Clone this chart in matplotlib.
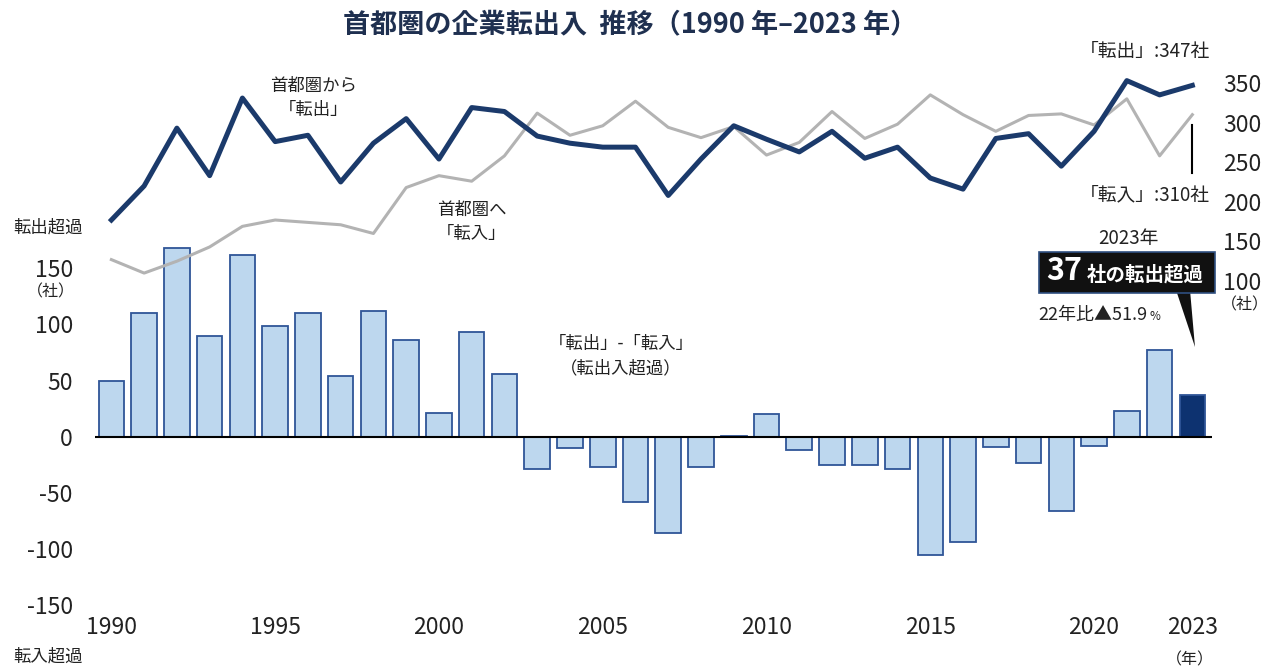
import numpy as np
import matplotlib.pyplot as plt
from matplotlib.patches import Polygon, FancyBboxPatch

plt.rcParams['font.family'] = ['Noto Sans CJK JP', 'DejaVu Sans']

years = list(range(1990, 2024))
# 首都圏から「転出」
out_cnt = [177, 220, 293, 233, 331, 276, 284, 225, 274, 305, 254, 319, 314, 283, 274, 269, 269,
           208, 254, 296, 279, 263, 289, 255, 269, 230, 216, 280, 286, 245, 289, 353, 335, 347]
# 首都圏へ「転入」
in_cnt = [127, 110, 125, 143, 169, 177, 174, 171, 160, 218, 233, 226, 258, 312, 284, 296, 327,
          294, 281, 295, 259, 275, 314, 280, 298, 335, 310, 289, 309, 311, 297, 330, 258, 310]
# 「転出」-「転入」
net = [50, 110, 168, 90, 162, 99, 110, 54, 112, 86, 21, 93, 56, -29, -10, -27, -58,
       -86, -27, 1, 20, -12, -25, -25, -29, -105, -94, -9, -23, -66, -8, 23, 77, 37]
xtick_years = [1990, 1995, 2000, 2005, 2010, 2015, 2020, 2023]
left_ticks = [-150, -100, -50, 0, 50, 100, 150]
right_ticks = [100, 150, 200, 250, 300, 350]

W, H = 1268, 671
navy = '#1b3a6b'
bar_fill = '#bdd7ee'
bar_edge = '#2f5597'
gray = '#b3b3b3'
txt = '#222222'

fig = plt.figure(figsize=(W / 100, H / 100), dpi=100)
ax = fig.add_axes([95 / W, (H - 605) / H, (1212 - 95) / W, (605 - 50) / H])
ax2 = ax.twinx()

colors = [bar_fill] * (len(years) - 1) + ['#0d3270']
ax.bar(years, net, width=0.78, color=colors, edgecolor=bar_edge, linewidth=1.3, zorder=2)
ax.axhline(0, color='black', linewidth=1.5, zorder=3)
ax.set_xlim(1989.5, 2023.6)
ax.set_ylim(-150, (436 - 50) / 1.12)
ax.set_yticks(left_ticks)
ax.set_yticklabels([str(v) for v in left_ticks], fontsize=16.5, color=txt)
ax.set_xticks(xtick_years)
ax.set_xticklabels([str(v) for v in xtick_years], fontsize=16.5, color=txt)
ax.tick_params(axis='y', length=0, pad=16)
ax.tick_params(axis='x', length=0, pad=8)

ax2.plot(years, in_cnt, color=gray, linewidth=2.2, zorder=4)
ax2.plot(years, out_cnt, color=navy, linewidth=3.6, zorder=5)
ax2.set_ylim(350 - (605 - 83) / 0.792, 350 + (83 - 50) / 0.792)
ax2.set_yticks(right_ticks)
ax2.set_yticklabels([str(v) for v in right_ticks], fontsize=16.5, color=txt)
ax2.tick_params(axis='y', length=0, pad=8)

for a in (ax, ax2):
    for s in a.spines.values():
        s.set_visible(False)

# text in pixel coordinates
def ftext(x, y, s, **kw):
    fig.text(x / W, 1 - y / H, s, **kw)

ftext(630, 24, '首都圏の企業転出入  推移（1990 年–2023 年）', fontsize=19.5, fontweight='bold',
      color='#1f3050', ha='center', va='center')
ftext(313, 86, '首都圏から', fontsize=12.5, color=txt, ha='center', va='center')
ftext(313, 110, '「転出」', fontsize=12.5, color=txt, ha='center', va='center')
ftext(472, 210, '首都圏へ', fontsize=12.5, color=txt, ha='center', va='center')
ftext(472, 234, '「転入」', fontsize=12.5, color=txt, ha='center', va='center')
ftext(621, 344, '「転出」-「転入」', fontsize=12.5, color=txt, ha='center', va='center')
ftext(621, 368, '（転出入超過）', fontsize=12.5, color=txt, ha='center', va='center')
ftext(1145, 52, '「転出」:347社', fontsize=13.5, color=txt, ha='center', va='center')
ftext(1145, 195, '「転入」:310社', fontsize=13.5, color=txt, ha='center', va='center')
ftext(1128, 238, '2023年', fontsize=13.5, color=txt, ha='center', va='center')
ftext(48, 228, '転出超過', fontsize=12.5, color=txt, ha='center', va='center')
ftext(48, 657, '転入超過', fontsize=12.5, color=txt, ha='center', va='center')
ftext(51, 292, '（社）', fontsize=11.5, color=txt, ha='center', va='center')
ftext(1245, 305, '（社）', fontsize=11.5, color=txt, ha='center', va='center')
ftext(1190, 660, '（年）', fontsize=11.5, color=txt, ha='center', va='center')
ftext(1093, 315, '22年比▲51.9', fontsize=13, color=txt, ha='center', va='center')
ftext(1155, 317, '%', fontsize=8.5, color=txt, ha='center', va='center')

# leader line for 転入 2023
fig.add_artist(plt.Line2D([1192 / W, 1192 / W], [1 - 125 / H, 1 - 173 / H],
                          color='black', linewidth=1.5))

# callout box
tri = Polygon([[1176 / W, 1 - 290 / H], [1190 / W, 1 - 290 / H], [1195 / W, 1 - 347 / H]],
              closed=True, transform=fig.transFigure, facecolor='#111111', edgecolor='none')
fig.add_artist(tri)
box = FancyBboxPatch((1039 / W, 1 - 293 / H), (1215 - 1039) / W, (293 - 252) / H,
                     boxstyle='square,pad=0', transform=fig.transFigure,
                     facecolor='#111111', edgecolor='#2f4f80', linewidth=1.2)
fig.add_artist(box)
ftext(1064, 271, '37', fontsize=22, fontweight='bold', color='white', ha='center', va='center')
ftext(1145, 275, '社の転出超過', fontsize=14, fontweight='bold', color='white',
      ha='center', va='center')

fig.savefig('out.png', dpi=100)
